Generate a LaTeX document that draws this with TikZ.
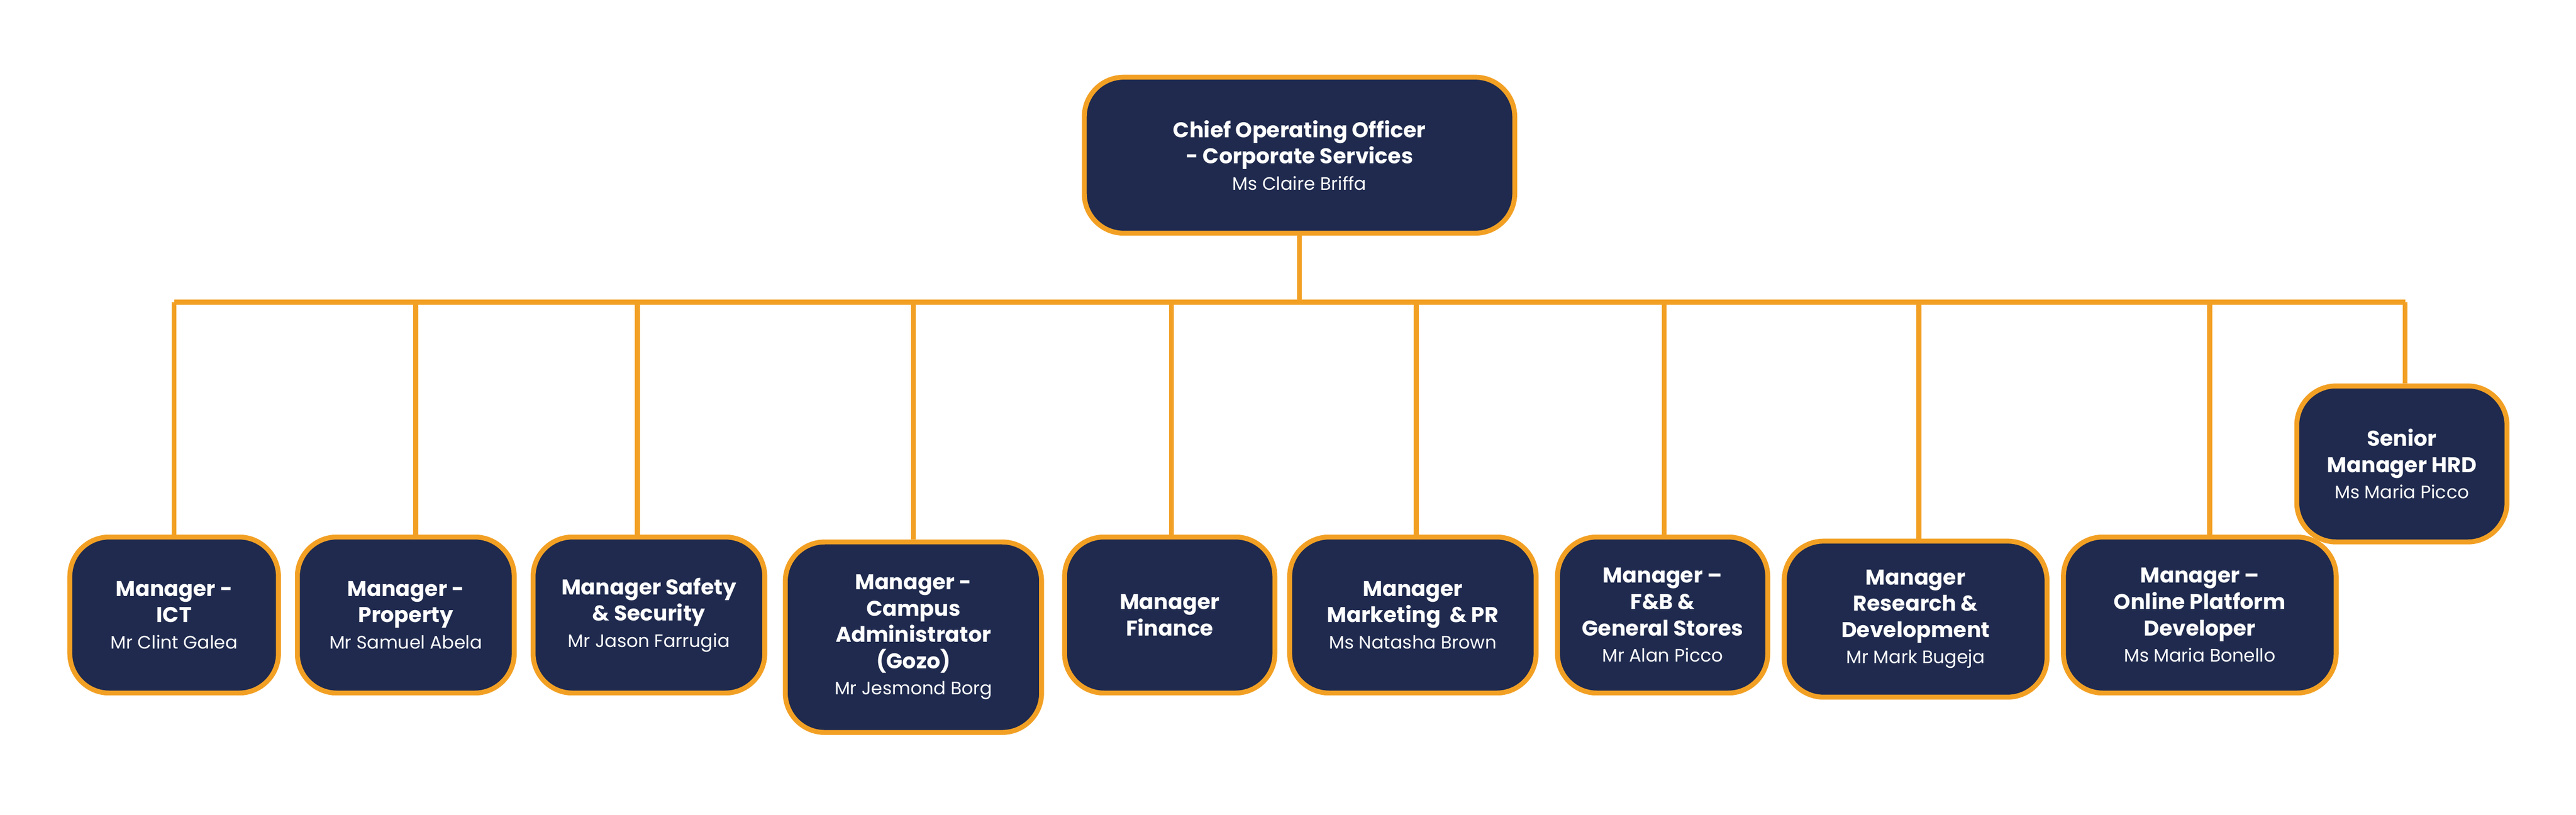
\documentclass[tikz,border=0pt]{standalone}
\usepackage{fontspec}
\setmainfont{Poppins}
\usepackage{xcolor}
\definecolor{navy}{HTML}{1F2A4E}
\definecolor{gold}{HTML}{F2A024}
\newcommand{\who}[1]{{\fontsize{11}{14}\selectfont\mdseries #1}}
\tikzset{
    post/.style={draw=gold, line width=3pt, fill=navy, rounded corners=24pt,
        text=white, align=center, inner sep=2pt,
        font=\fontsize{13}{16}\selectfont\bfseries},
    link/.style={draw=gold, line width=3pt}
}

\begin{document}
\begin{tikzpicture}[x=1pt, y=-1pt]
    \useasboundingbox (0,0) rectangle (1568,496);

    \node[post, minimum width=262pt, minimum height=95pt] (coo) at (791,94.5)
        {Chief Operating Officer\\- Corporate Services\\\who{Ms Claire Briffa}};

    \node[post, minimum width=127pt, minimum height=95pt] (ict) at (106,374.5)
        {Manager -\\ICT\\\who{Mr Clint Galea}};
    \node[post, minimum width=132pt, minimum height=95pt] (prop) at (247,374.5)
        {Manager -\\Property\\\who{Mr Samuel Abela}};
    \node[post, minimum width=141pt, minimum height=95pt] (safe) at (395,374.5)
        {Manager Safety\\\& Security\\\who{Mr Jason Farrugia}};
    \node[post, minimum width=156pt, minimum height=116pt] (gozo) at (556,388)
        {Manager -\\Campus\\Administrator\\(Gozo)\\\who{Mr Jesmond Borg}};
    \node[post, minimum width=128pt, minimum height=95pt] (fin) at (712,374.5)
        {Manager\\Finance};
    \node[post, minimum width=150pt, minimum height=95pt] (mkt) at (860,374.5)
        {Manager\\Marketing \ \& PR\\\who{Ms Natasha Brown}};
    \node[post, minimum width=128pt, minimum height=95pt] (fnb) at (1012,374.5)
        {Manager –\\F\&B \&\\General Stores\\\who{Mr Alan Picco}};
    \node[post, minimum width=160pt, minimum height=95pt] (rnd) at (1166,377)
        {Manager\\Research \&\\Development\\\who{Mr Mark Bugeja}};
    \node[post, minimum width=166pt, minimum height=95pt] (web) at (1339,374.5)
        {Manager –\\Online Platform\\Developer\\\who{Ms Maria Bonello}};
    \node[post, minimum width=128pt, minimum height=95pt] (hrd) at (1462,282.5)
        {Senior\\Manager HRD\\\who{Ms Maria Picco}};

    % bus line
    \coordinate (busL) at (106,184);
    \coordinate (busR) at (1464,184);
    \draw[link] (busL) -- (busR);
    \draw[link] (coo.south) -- (coo.south |- busL);
    \foreach \n/\x in {ict/106, prop/253, safe/388, gozo/556, fin/713,
                       mkt/862, fnb/1013, rnd/1168, web/1345, hrd/1464}
        \draw[link] (\x,184) -- (\x,0 |- \n.north);
\end{tikzpicture}
\end{document}
